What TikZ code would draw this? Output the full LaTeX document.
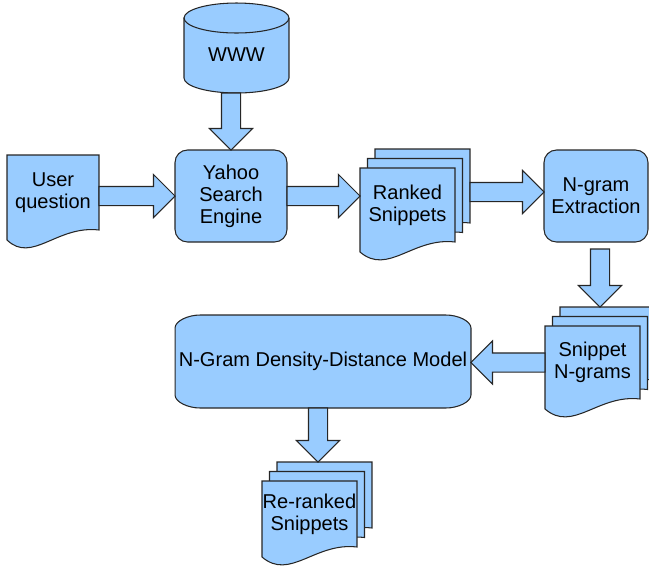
\documentclass[tikz,border=0pt]{standalone}
\usepackage{fontspec}
\setmainfont{Liberation Sans}
\usetikzlibrary{shapes.arrows,calc,backgrounds}

\definecolor{boxblue}{HTML}{99CCFF}

% one page of a document stack, shifted by #2
\newcommand{\drawdoc}[2]{%
  \filldraw[shapeline] ($(#1.north west)+(#2)$) -- ($(#1.north east)+(#2)$) -- ($(#1.south east)+(#2)$)
    .. controls ($(#1.south east)+(#2)+(-42,-5)$) and ($(#1.south east)+(#2)+(-67,34)$)
    .. ($(#1.south west)+(#2)+(0,10)$) -- cycle;}
\newcommand{\drawstack}[1]{\drawdoc{#1}{15,-19}\drawdoc{#1}{7.5,-9.5}\drawdoc{#1}{0,0}}

% fat arrow from #1 to #2
\newcommand{\fatarrow}[2]{%
  \path let \p1=(#1), \p2=(#2), \n1={veclen(\x2-\x1,\y2-\y1)}, \n2={atan2(\y2-\y1,\x2-\x1)} in
    node[blockarrow, minimum height=\n1, rotate=\n2, anchor=tail] at (\p1) {};}

\begin{document}
\begin{tikzpicture}[x=0.02cm, y=-0.02cm,
    shapeline/.style={draw=black!85, fill=boxblue, line width=0.6pt},
    txt/.style={font=\fontsize{11.4}{12.6}\selectfont, align=center, inner sep=0pt, outer sep=0pt},
    roundbox/.style={txt, shapeline, rounded corners=0.25cm},
    blockarrow/.style={single arrow, shapeline, single arrow head extend=0.24cm,
        single arrow tip angle=90, inner xsep=0pt, inner ysep=0.18cm, outer sep=0pt},
]
\clip (0,0) rectangle (649,576);

% Nodes
\node[txt] (www) at (236.5,55) {WWW};
\coordinate (wwwbase) at ($(www)+(0,38)$);
\node[txt, minimum width=1.84cm, minimum height=1.5cm] (user) at (53,192.5) {User\\question};
\node[roundbox, minimum width=2.24cm, minimum height=1.84cm] (yahoo) at (231,196) {Yahoo\\Search\\Engine};
\node[txt, minimum width=1.9cm, minimum height=1.48cm] (ranked) at (407.5,205) {Ranked\\Snippets};
\node[roundbox, minimum width=2.08cm, minimum height=1.84cm] (ngram) at (596,196) {N-gram\\Extraction};
\node[txt, minimum width=1.9cm, minimum height=1.46cm] (snippet) at (592.5,362.5) {Snippet\\N-grams};
\node[txt, minimum width=5.92cm, minimum height=1.86cm] (model) at (323,361.5) {N-Gram Density-Distance Model};
\node[txt, minimum width=1.9cm, minimum height=1.32cm] (reranked) at (309.5,514) {Re-ranked\\Snippets};

\begin{scope}[on background layer]
  % WWW cylinder
  \filldraw[shapeline] ($(www)+(-52.5,-37)$) -- ($(www)+(-52.5,23)$)
      arc[start angle=180, end angle=360, x radius=1.05cm, y radius=0.3cm]
      -- ($(www)+(52.5,-37)$) arc[start angle=0, end angle=180, x radius=1.05cm, y radius=0.3cm] -- cycle;
  \draw[shapeline, fill=none] ($(www)+(-52.5,-37)$) arc[start angle=180, end angle=360, x radius=1.05cm, y radius=0.3cm];
  % documents
  \drawdoc{user}{0,0}
  \drawstack{ranked}
  \drawstack{snippet}
  \drawstack{reranked}
  % model
  \filldraw[shapeline] ($(model.north west)+(0,13)$) .. controls ($(model.north west)+(0,6)$) and ($(model.north west)+(13,0)$)
      .. ($(model.north west)+(25,0)$) -- ($(model.north east)+(-25,0)$)
      .. controls ($(model.north east)+(-13,0)$) and ($(model.north east)+(0,6)$) .. ($(model.north east)+(0,13)$)
      -- ($(model.south east)+(0,-13)$) .. controls ($(model.south east)+(0,-6)$) and ($(model.south east)+(-13,0)$)
      .. ($(model.south east)+(-25,0)$) -- ($(model.south west)+(25,0)$)
      .. controls ($(model.south west)+(13,0)$) and ($(model.south west)+(0,-6)$) .. ($(model.south west)+(0,-13)$) -- cycle;
\end{scope}

% Arrows
\fatarrow{yahoo.north |- wwwbase}{yahoo.north}
\fatarrow{user.east |- yahoo.west}{yahoo.west}
\fatarrow{yahoo.east}{ranked.west |- yahoo.east}
\fatarrow{$(ranked.east |- ngram.west)+(15,-4)$}{$(ngram.west)+(0,-4)$}
\fatarrow{$(ngram.south)+(4,7)$}{$(ngram.south |- snippet.north)+(4,-19)$}
\fatarrow{snippet.west}{model.east |- snippet.west}
\fatarrow{$(model.south)+(-5,0)$}{$(reranked.north)+(8.5,-19)$}

\end{tikzpicture}
\end{document}
